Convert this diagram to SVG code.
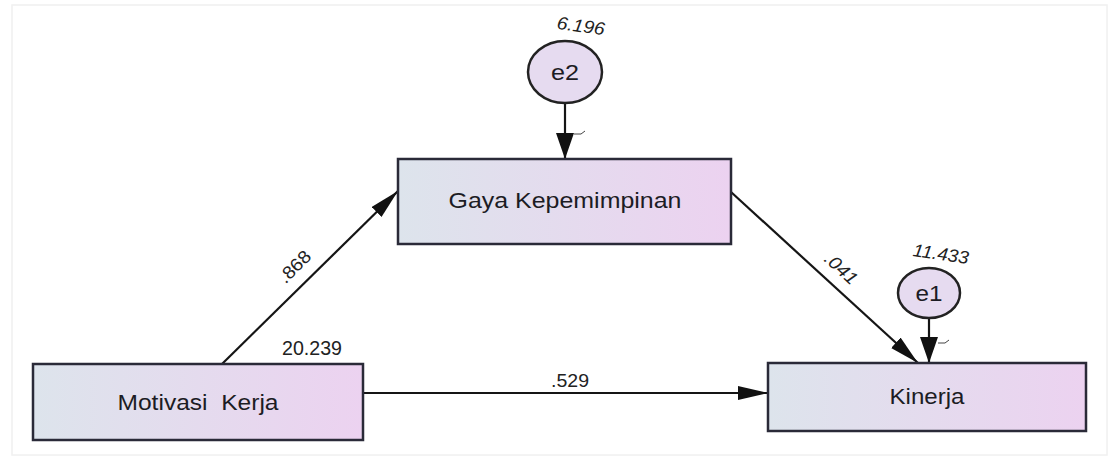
<svg xmlns="http://www.w3.org/2000/svg" width="1113" height="461" viewBox="0 0 1113 461">
<defs>
<linearGradient id="g" x1="0" y1="0" x2="1" y2="0">
<stop offset="0" stop-color="#dde4ec"/>
<stop offset="1" stop-color="#ecd2f0"/>
</linearGradient>
<marker id="arr" markerUnits="userSpaceOnUse" markerWidth="32" markerHeight="16" refX="30" refY="7" orient="auto">
<path d="M0,0 L30,7 L0,14 z" fill="#111"/>
</marker>
<marker id="arrS" markerUnits="userSpaceOnUse" markerWidth="28" markerHeight="20" refX="26" refY="9" orient="auto">
<path d="M0,0 L26,9 L0,18 z" fill="#111"/>
</marker>
<style>
.box{fill:url(#g);stroke:#2a2a38;stroke-width:2.5}
.err{fill:#e6dbf0;stroke:#222;stroke-width:2.5}
.lbl{font-family:"Liberation Sans",Arial,sans-serif;font-size:22px;fill:#1c1c24;text-anchor:middle}
.num{font-family:"Liberation Sans",Arial,sans-serif;font-size:18px;fill:#222;text-anchor:middle}
.it{font-style:italic}
.con{stroke:#151515;stroke-width:2.2;fill:none}
.tick{stroke:#444;stroke-width:1;fill:none}
</style>
</defs>
<rect x="12" y="5" width="1095" height="450" fill="#fff" stroke="#f0f0f0" stroke-width="1.5"/>
<g id="connectors">
<line class="con" x1="222" y1="364" x2="398" y2="191" marker-end="url(#arr)"/>
<line class="con" x1="731" y1="192" x2="918" y2="363" marker-end="url(#arr)"/>
<line class="con" x1="363" y1="393" x2="768" y2="393" marker-end="url(#arr)"/>
<line class="con" x1="565" y1="103" x2="565" y2="159" marker-end="url(#arrS)"/>
<line class="con" x1="929" y1="318" x2="929" y2="363" marker-end="url(#arrS)"/>
<path class="tick" d="M574,134 h7 l4,-3"/>
<path class="tick" d="M938,343 h7 l4,-3"/>
<text class="num" transform="translate(299,271) rotate(-45)" textLength="38" lengthAdjust="spacingAndGlyphs">.868</text>
<text class="num it" transform="translate(837,273) rotate(42.6)" textLength="38" lengthAdjust="spacingAndGlyphs">.041</text>
<text class="num" x="570" y="387" textLength="38" lengthAdjust="spacingAndGlyphs">.529</text>
</g>
<g id="e2">
<ellipse class="err" cx="565" cy="72" rx="37" ry="31"/>
<text class="lbl" x="565" y="80" textLength="28" lengthAdjust="spacingAndGlyphs">e2</text>
<text class="num it" transform="translate(580,32) rotate(8)" textLength="48" lengthAdjust="spacingAndGlyphs">6.196</text>
</g>
<g id="e1">
<ellipse class="err" cx="929" cy="293" rx="31" ry="25"/>
<text class="lbl" x="929" y="301" textLength="27" lengthAdjust="spacingAndGlyphs">e1</text>
<text class="num it" transform="translate(940,260) rotate(8)" textLength="56" lengthAdjust="spacingAndGlyphs">11.433</text>
</g>
<g id="gaya">
<rect class="box" x="398" y="159" width="333" height="85"/>
<text class="lbl" x="565" y="208" textLength="233" lengthAdjust="spacingAndGlyphs">Gaya Kepemimpinan</text>
</g>
<g id="motivasi">
<rect class="box" x="33" y="364" width="330" height="76"/>
<text class="lbl" x="198" y="410" textLength="161" lengthAdjust="spacingAndGlyphs" xml:space="preserve">Motivasi  Kerja</text>
<text class="num" x="312" y="355" style="font-size:20px" textLength="60" lengthAdjust="spacingAndGlyphs">20.239</text>
</g>
<g id="kinerja">
<rect class="box" x="768" y="363" width="318" height="68"/>
<text class="lbl" x="927" y="404" textLength="75" lengthAdjust="spacingAndGlyphs">Kinerja</text>
</g>
</svg>
